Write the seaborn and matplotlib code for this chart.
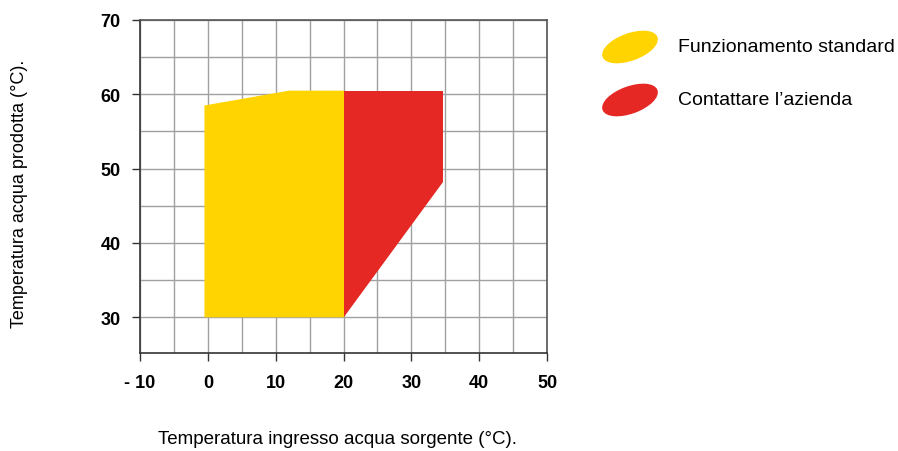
import matplotlib
matplotlib.use("Agg")
import matplotlib.pyplot as plt
from matplotlib.patches import Ellipse
from matplotlib import font_manager
import seaborn as sns

# operating envelope (x = inlet source water temp, y = produced water temp)
standard_x = [-0.5, -0.5, 12, 20.1, 20.1]
standard_y = [30, 58.5, 60.5, 60.5, 30]
contact_x = [20.1, 20.1, 34.7, 34.7]
contact_y = [30, 60.5, 60.5, 48.2]

x_ticks = [-10, 0, 10, 20, 30, 40, 50]
x_labels = ["- 10", "0", "10", "20", "30", "40", "50"]
y_ticks = [30, 40, 50, 60, 70]

legend_labels = ["Funzionamento standard", "Contattare l\u2019azienda"]
colors = ["#FFD400", "#E52823"]

sns.set_style("white")
plt.rcParams['font.family'] = ['Liberation Sans', 'DejaVu Sans']
plt.rcParams['text.color'] = 'black'

names = {f.name for f in font_manager.fontManager.ttflist}
narrow = 'Liberation Sans Narrow' if 'Liberation Sans Narrow' in names else 'Liberation Sans'

fig = plt.figure(figsize=(8.98, 4.52), dpi=100)
ax = fig.add_axes([140/898, 1-354/452, 407/898, 333/452])

ax.fill(standard_x, standard_y, color=colors[0], lw=0, zorder=2)
ax.fill(contact_x, contact_y, color=colors[1], lw=0, zorder=2)

ax.set_xlim(-10, 50)
ax.set_ylim(25.2, 70)
ax.set_xticks(x_ticks)
ax.set_xticklabels(x_labels)
ax.set_yticks(y_ticks)
ax.set_xticks(range(-5, 50, 10), minor=True)
ax.set_yticks(range(35, 70, 10), minor=True)
ax.grid(True, which='both', color='#a0a0a0', lw=1, zorder=1)
ax.set_axisbelow(True)

for lab in ax.get_xticklabels() + ax.get_yticklabels():
    lab.set_fontweight('bold')
    lab.set_fontsize(13)
    lab.set_family([narrow, 'DejaVu Sans'])
    lab.set_color('black')
ax.tick_params(axis='x', which='major', pad=9)
ax.tick_params(axis='y', which='major', pad=8)
ax.tick_params(axis='both', which='major', direction='out', length=6, width=1,
               color='#333333', bottom=True, left=True)
ax.tick_params(axis='both', which='minor', length=0)

for side in ['left', 'bottom']:
    ax.spines[side].set_color('#333333')
    ax.spines[side].set_linewidth(1.2)
for side in ['top', 'right']:
    ax.spines[side].set_color('#555555')
    ax.spines[side].set_linewidth(1.2)

fig.text(338/898, 1-440/452, "Temperatura ingresso acqua sorgente (\u00b0C).",
         ha='center', va='center', fontsize=13.5)
fig.text(20/898, 1-194/452, "Temperatura acqua prodotta (\u00b0C).",
         ha='center', va='center', rotation=90, fontsize=13)

# legend with tilted ellipses
for i, (lab, c) in enumerate(zip(legend_labels, colors)):
    cy = 4.52 - (0.48 + 0.53 * i)
    e = Ellipse((6.30, cy), 0.57, 0.26, angle=20, color=c,
                transform=fig.dpi_scale_trans)
    fig.add_artist(e)
    fig.text(678/898, cy/4.52, lab, ha='left', va='center', fontsize=14)

fig.savefig("out.png", dpi=100)
